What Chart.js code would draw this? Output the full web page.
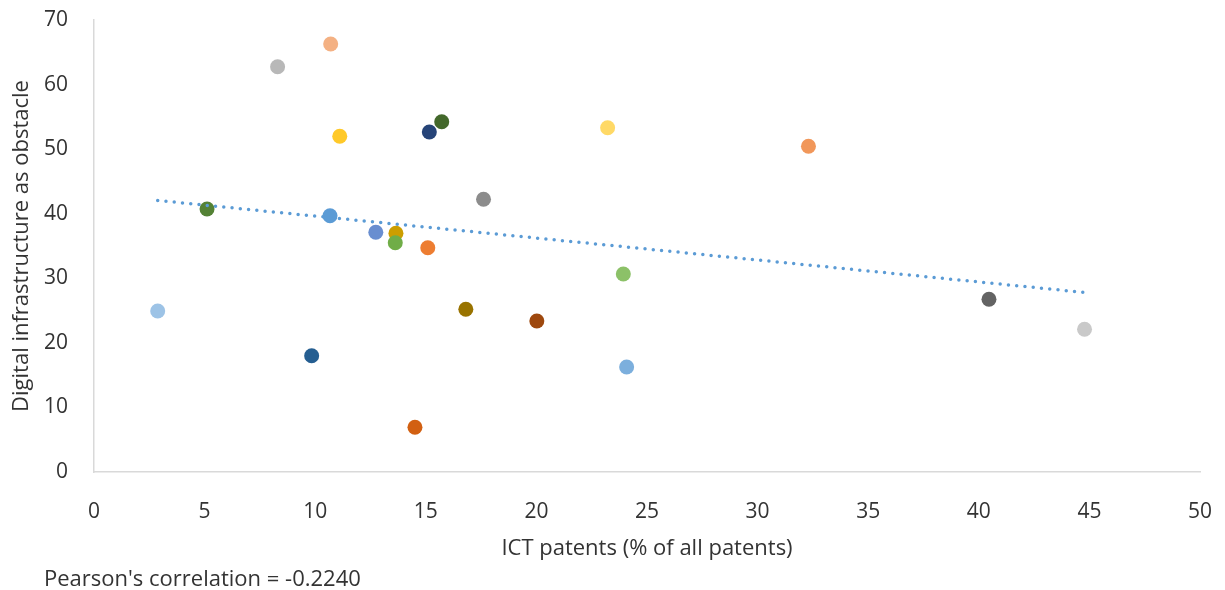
<!DOCTYPE html>
<html>
<head>
<meta charset="utf-8">
<script src="https://cdn.jsdelivr.net/npm/chart.js@4/dist/chart.umd.min.js"></script>
<style>
  html, body { margin: 0; padding: 0; background: #ffffff; }
  #wrap { position: relative; width: 1225px; height: 590px; }
  #note { position: absolute; left: 44px; top: 562px; font-family: "Open Sans", sans-serif; font-size: 22px; line-height: 30px; color: #333333; white-space: nowrap; }
</style>
</head>
<body>
<div id="wrap">
  <canvas id="c" width="1225" height="590"></canvas>
  <div id="note">Pearson's correlation = -0.2240</div>
</div>
<script>
// ICT patents (% of all patents)
const ictPatents = [2.88, 5.11, 8.30, 9.84, 10.70, 10.67, 11.11, 12.74, 13.65, 13.62, 14.51, 15.16, 15.09, 15.72, 16.81, 17.61, 20.02, 23.22, 23.93, 24.08, 32.30, 40.46, 44.78];
// Digital infrastructure as obstacle
const infraObstacle = [24.93, 40.73, 62.77, 18.01, 66.28, 39.69, 51.99, 37.12, 36.97, 35.51, 6.92, 52.66, 34.74, 54.25, 25.20, 42.23, 23.39, 53.32, 30.66, 16.26, 50.44, 26.75, 22.10];
const pointColors = ['#9dc3e6', '#548235', '#b8b8b8', '#255e91', '#f4b183', '#5b9bd5', '#ffc929', '#698ed0', '#cc9e00', '#70ad47', '#d26012', '#264478', '#ed7d31', '#43682b', '#997300', '#8c8c8c', '#9e480e', '#ffd966', '#8cc168', '#7cafdd', '#f1975a', '#636363', '#c9c9c9'];
const xTicks = [0, 5, 10, 15, 20, 25, 30, 35, 40, 45, 50];
const yTicks = [0, 10, 20, 30, 40, 50, 60, 70];
const xTitle = 'ICT patents (% of all patents)';
const yTitle = 'Digital infrastructure as obstacle';

// Linear trend line (least squares) computed from the data
const n = ictPatents.length;
const mx = ictPatents.reduce((a, b) => a + b, 0) / n;
const my = infraObstacle.reduce((a, b) => a + b, 0) / n;
let sxy = 0, sxx = 0;
for (let i = 0; i < n; i++) { sxy += (ictPatents[i] - mx) * (infraObstacle[i] - my); sxx += (ictPatents[i] - mx) ** 2; }
const slope = sxy / sxx, intercept = my - slope * mx;
const xMin = Math.min(...ictPatents), xMax = Math.max(...ictPatents);
const trend = [{x: xMin, y: intercept + slope * xMin}, {x: xMax, y: intercept + slope * xMax}];

const points = ictPatents.map((x, i) => ({x: x, y: infraObstacle[i]}));
const FONT = '"Open Sans", sans-serif';
const TXT = '#333333';

new Chart(document.getElementById('c'), {
  type: 'scatter',
  data: {
    datasets: [
      {
        type: 'line', data: trend, order: 0,
        borderColor: '#5b9bd5', borderWidth: 3.5, borderDash: [0, 8.3], borderCapStyle: 'round',
        pointRadius: 0, fill: false, tension: 0
      },
      {
        data: points, order: 1,
        pointRadius: 7.5, pointHoverRadius: 7.5, pointBorderWidth: 0,
        pointBackgroundColor: pointColors, pointBorderColor: pointColors
      }
    ]
  },
  options: {
    responsive: false,
    animation: false,
    events: [],
    layout: { padding: { left: 0, right: 25, top: 20, bottom: 0 } },
    plugins: { legend: { display: false }, tooltip: { enabled: false } },
    scales: {
      x: {
        type: 'linear', min: 0, max: 50,
        afterBuildTicks: (s) => { s.ticks = xTicks.map(v => ({value: v})); },
        afterFit: (s) => { s.height = 118; s.paddingLeft = 0; s.paddingRight = 0; },
        grid: { display: false, drawTicks: false },
        border: { display: true, color: '#d9d9d9', width: 1.5 },
        ticks: { padding: 27, color: TXT, font: { family: FONT, size: 21 }, maxRotation: 0 },
        title: { display: true, text: xTitle, color: TXT, font: { family: FONT, size: 22 }, padding: { top: 0, bottom: 28 } }
      },
      y: {
        type: 'linear', min: 0, max: 70,
        afterBuildTicks: (s) => { s.ticks = yTicks.map(v => ({value: v})); },
        afterFit: (s) => { s.width = 94; s.paddingTop = 0; s.paddingBottom = 0; },
        grid: { display: false, drawTicks: false },
        border: { display: true, color: '#d9d9d9', width: 1.5 },
        ticks: { padding: 26, color: TXT, font: { family: FONT, size: 21 } },
        title: { display: true, text: yTitle, color: TXT, font: { family: FONT, size: 22 }, padding: { top: 9, bottom: 0 } }
      }
    }
  }
});
</script>
</body>
</html>
